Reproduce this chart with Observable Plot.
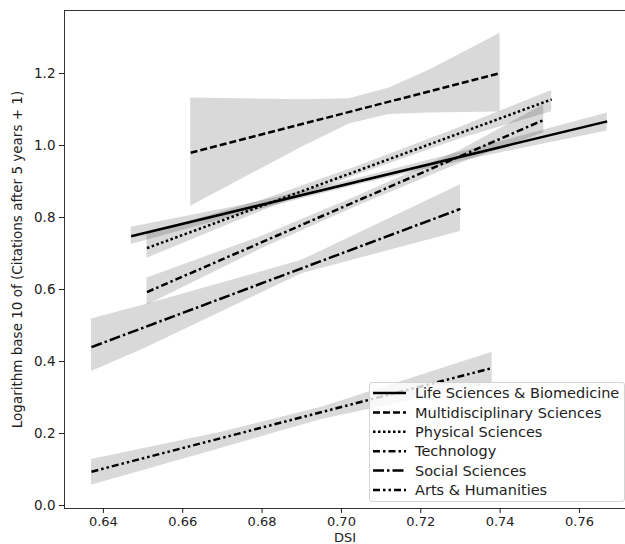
<!DOCTYPE html>
<html><head><meta charset="utf-8">
<script src="https://cdn.jsdelivr.net/npm/d3@7"></script>
<script src="https://cdn.jsdelivr.net/npm/@observablehq/plot@0.6"></script>
<style>
body{margin:0;background:#fff;}
#wrap{position:relative;width:625px;height:544px;overflow:hidden;}
.legend{position:absolute;left:369px;top:382px;width:256px;height:120px;box-sizing:border-box;border:1px solid #d4d4d4;border-radius:3px;background:rgba(255,255,255,0.8);}
</style></head><body><div id="wrap"></div>
<script>
// ---- data ----
const categories = ["Life Sciences & Biomedicine","Multidisciplinary Sciences","Physical Sciences","Technology","Social Sciences","Arts & Humanities"];
const fitStartX = [0.647, 0.662, 0.651, 0.651, 0.637, 0.637];
const fitStartY = [0.748, 0.980, 0.715, 0.593, 0.440, 0.094];
const fitEndX   = [0.767, 0.740, 0.753, 0.751, 0.730, 0.738];
const fitEndY   = [1.067, 1.201, 1.128, 1.071, 0.824, 0.382];
const bandX = [
  [0.647, 0.675, 0.705, 0.735, 0.767],
  [0.662, 0.690, 0.702, 0.712, 0.722, 0.740],
  [0.651, 0.680, 0.705, 0.730, 0.753],
  [0.651, 0.680, 0.705, 0.730, 0.751],
  [0.637, 0.650, 0.690, 0.730],
  [0.637, 0.670, 0.695, 0.738]
];
const bandLow = [
  [0.725, 0.810, 0.893, 0.968, 1.040],
  [0.831, 0.995, 1.060, 1.086, 1.090, 1.093],
  [0.687, 0.818, 0.922, 1.019, 1.094],
  [0.556, 0.714, 0.836, 0.951, 1.035],
  [0.372, 0.434, 0.644, 0.761],
  [0.056, 0.160, 0.239, 0.340]
];
const bandHigh = [
  [0.773, 0.834, 0.911, 0.996, 1.090],
  [1.132, 1.127, 1.130, 1.160, 1.208, 1.312],
  [0.755, 0.848, 0.946, 1.051, 1.153],
  [0.632, 0.748, 0.864, 0.987, 1.113],
  [0.518, 0.556, 0.681, 0.891],
  [0.128, 0.204, 0.273, 0.426]
];
const xTicks = [0.64, 0.66, 0.68, 0.70, 0.72, 0.74, 0.76];
const yTicks = [0.0, 0.2, 0.4, 0.6, 0.8, 1.0, 1.2];

// ---- styles ----
const dashes = ["none", "7,3", "2.5,2.5", "7,3,2.5,3", "11,3,2.5,3", "7,3,2.5,3,2.5,3"];
const xDomain = [0.6302, 0.7716];
const yDomain = [-0.0083, 1.375];

// ---- tables ----
const bandRows = [];
categories.forEach((c, i) => bandX[i].forEach((x, j) => bandRows.push({cat: c, x, lo: bandLow[i][j], hi: bandHigh[i][j]})));
const lineRows = categories.map((c, i) => [{cat: c, x: fitStartX[i], y: fitStartY[i]}, {cat: c, x: fitEndX[i], y: fitEndY[i]}]);

const marks = [
  Plot.areaY(bandRows, {x: "x", y1: "lo", y2: "hi", z: "cat", fill: "black", fillOpacity: 0.15, curve: "linear"}),
  ...lineRows.map((rows, i) => Plot.line(rows, {x: "x", y: "y", stroke: "black", strokeWidth: 2.5, strokeDasharray: dashes[i], strokeLinecap: "butt"})),
  Plot.ruleY([yDomain[1]], {stroke: "#333", strokeWidth: 1}),
  Plot.ruleY([yDomain[0]], {stroke: "#333", strokeWidth: 1}),
  Plot.ruleX([xDomain[0]], {stroke: "#333", strokeWidth: 1}),
  Plot.axisX({ticks: xTicks, tickFormat: d => d.toFixed(2), tickSize: 5, tickPadding: 3, fontSize: 13, label: "DSI", labelAnchor: "center", labelArrow: "none", labelOffset: 33}),
  Plot.axisY({ticks: yTicks, tickFormat: d => d.toFixed(1), tickSize: 5, tickPadding: 4, fontSize: 13.5, label: "Logarithm base 10 of (Citations after 5 years + 1)", labelAnchor: "center", labelArrow: "none", labelOffset: 52})
];

const chart = Plot.plot({
  width: 625, height: 544,
  marginLeft: 64, marginTop: 10, marginRight: 0, marginBottom: 36,
  x: {domain: xDomain},
  y: {domain: yDomain},
  style: {fontFamily: "DejaVu Sans", fontSize: "13px", color: "#222", background: "white"},
  marks
});
const wrap = document.getElementById("wrap");
wrap.appendChild(chart);

// ---- legend (SVG inside an absolutely placed box) ----
const legend = document.createElement("div");
legend.className = "legend";
const lsvg = d3.create("svg").attr("width", 254).attr("height", 118)
  .style("position", "absolute").style("left", "0px").style("top", "0px");
categories.forEach((c, i) => {
  const cy = 10 + i * 19.4;
  lsvg.append("line").attr("x1", 3).attr("x2", 36).attr("y1", cy).attr("y2", cy)
    .attr("stroke", "black").attr("stroke-width", 2.5).attr("stroke-dasharray", dashes[i]);
  lsvg.append("text").attr("x", 45).attr("y", cy).attr("dy", "0.36em")
    .attr("font-family", "DejaVu Sans").attr("font-size", 14.5).attr("fill", "#222").text(c);
});
legend.appendChild(lsvg.node());
wrap.appendChild(legend);
</script></body></html>
